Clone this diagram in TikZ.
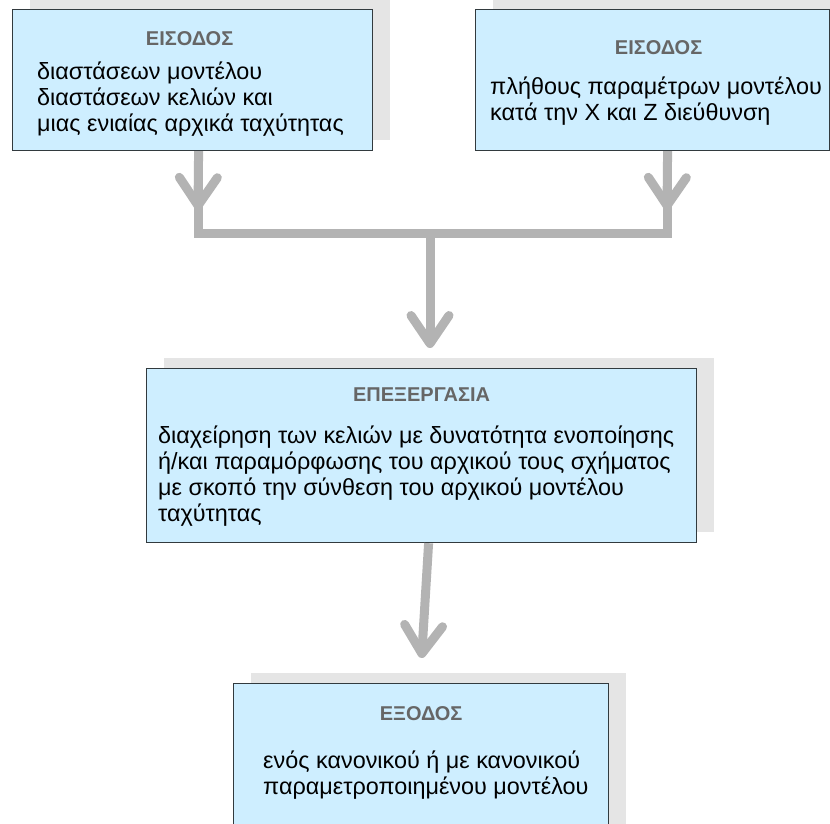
\documentclass[tikz,border=0pt]{standalone}
\usepackage{fontspec}
\setmainfont{Liberation Sans}
\usetikzlibrary{positioning,arrows.meta,shadows}
\definecolor{boxblue}{RGB}{206,238,255}
\definecolor{boxedge}{RGB}{50,58,62}
\definecolor{shadowgray}{RGB}{229,229,229}
\definecolor{headgray}{RGB}{102,102,102}
\definecolor{pipegray}{RGB}{179,179,179}
\tikzset{
	stagebox/.style={rectangle, draw=boxedge, line width=1.2pt, fill=boxblue, inner sep=0pt, anchor=north west,
		drop shadow={shadow xshift=17pt, shadow yshift=11pt, fill=shadowgray, opacity=1}},
	heading/.style={font=\fontsize{20}{23}\selectfont\bfseries, text=headgray, inner sep=0pt},
	bodytext/.style={font=\fontsize{23.4}{26}\selectfont, align=left, inner sep=0pt, anchor=north west},
	pipe/.style={draw=pipegray, line width=9pt},
	tip/.style={-{Straight Barb[length=28pt,width=38pt,round]}}
}
\begin{document}
\begin{tikzpicture}[x=1pt,y=-1pt]
	\clip (0,0) rectangle (830,824);
	% boxes
	\node[stagebox, minimum width=360pt, minimum height=141pt] (inA) at (12,9) {};
	\node[stagebox, minimum width=354pt, minimum height=141pt] (inB) at (475,9) {};
	\node[stagebox, minimum width=550pt, minimum height=174pt] (proc) at (146,368) {};
	\node[stagebox, minimum width=375pt, minimum height=160pt] (out) at (233,683) {};
	% headings
	\node[heading, below=22pt of inA.north, xshift=-3pt] (inAhead) {ΕΙΣΟΔΟΣ};
	\node[heading, below=31pt of inB.north, xshift=6pt] (inBhead) {ΕΙΣΟΔΟΣ};
	\node[heading, below=20pt of proc.north] (prochead) {ΕΠΕΞΕΡΓΑΣΙΑ};
	\node[heading, below=23pt of out.north] (outhead) {ΕΞΟΔΟΣ};
	% texts
	\node[bodytext] (inAtext) at ([xshift=25pt, yshift=-53pt]inA.north west)
		{διαστάσεων μοντέλου\\διαστάσεων κελιών και\\μιας ενιαίας αρχικά ταχύτητας};
	\node[bodytext] (inBtext) at ([xshift=15pt, yshift=-68pt]inB.north west)
		{πλήθους παραμέτρων μοντέλου\\κατά την X και Z διεύθυνση};
	\node[bodytext] (proctext) at ([xshift=12pt, yshift=-58pt]proc.north west)
		{διαχείρηση των κελιών με δυνατότητα ενοποίησης\\ή/και παραμόρφωσης του αρχικού τους σχήματος\\με σκοπό την σύνθεση του αρχικού μοντέλου\\ταχύτητας};
	\node[bodytext] (outtext) at ([xshift=30pt, yshift=-68pt]out.north west)
		{ενός κανονικού ή με κανονικού\\παραμετροποιημένου μοντέλου};
	% connectors
	\coordinate (join) at (430,233);
	\coordinate (tipA) at (198,210);
	\coordinate (tipB) at (667,210);
	\draw[pipe] ([xshift=6pt]inA.south) |- (join) -| ([xshift=15pt]inB.south);
	\draw[pipe, tip] ([xshift=6pt]inA.south) -- (tipA);
	\draw[pipe, tip] ([xshift=15pt]inB.south) -- (tipB);
	\draw[pipe, tip] (join) -- ([yshift=20pt]proc.north -| join);
	\draw[pipe, tip] ([xshift=7pt]proc.south) -- ([yshift=25pt]out.north -| proc.south);
\end{tikzpicture}
\end{document}
